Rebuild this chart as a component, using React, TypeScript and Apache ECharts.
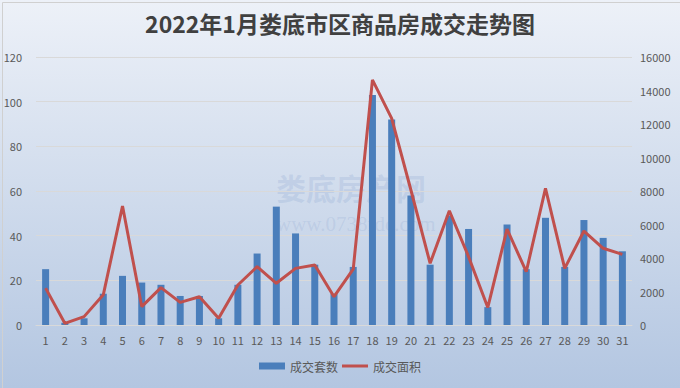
import React, { useEffect, useRef } from "react";
import * as echarts from "echarts";

const days = Array.from({ length: 31 }, (_, i) => String(i + 1));
const units = [25, 1, 3, 14, 22, 19, 18, 13, 13, 3, 18, 32, 53, 41, 27, 14, 26, 103, 92, 58, 27, 49, 43, 8, 45, 25, 48, 26, 47, 39, 33];
const area = [2200, 100, 500, 1800, 7100, 1100, 2230, 1350, 1690, 400, 2390, 3480, 2490, 3380, 3580, 1690, 3340, 14630, 12340, 8060, 3680, 6820, 4080, 1050, 5730, 3180, 8160, 3380, 5610, 4580, 4220];
const titleText = "2022年1月娄底市区商品房成交走势图";
const seriesNames = ["成交套数", "成交面积"];

const FONT = "'Noto Sans CJK SC', 'Noto Sans', sans-serif";
const LINE_ICON = "path://M0,0 L0.01,0 L0,0.01 Z M0,2 L26,2 L26,5 L0,5 Z M26,7 L25.99,7 L26,6.99 Z";

export default function App() {
  const ref = useRef<HTMLDivElement>(null);
  useEffect(() => {
    if (!ref.current) return;
    const chart = echarts.init(ref.current, undefined, { renderer: "svg" });
    chart.setOption({
      animation: false,
      backgroundColor: new echarts.graphic.LinearGradient(0, 0, 0, 1, [
        { offset: 0, color: "#edf1f8" },
        { offset: 1, color: "#b3c6e1" },
      ]),
      title: {
        text: titleText,
        left: "center",
        top: 6,
        textStyle: { fontFamily: FONT, fontSize: 23, fontWeight: "bold", color: "#404040" },
      },
      graphic: [
        {
          type: "rect",
          left: 0,
          top: 0,
          shape: { width: 679, height: 387 },
          style: { fill: "none", stroke: "#d0d0d0", lineWidth: 1 },
          silent: true,
        },
        {
          type: "text",
          left: 276,
          top: 172,
          style: { text: "娄底房产网", font: `bold 30px ${FONT}`, fill: "rgba(120,150,200,0.2)" },
          silent: true,
        },
        {
          type: "text",
          left: 276,
          top: 213,
          style: { text: "www.0738fdc.com", font: `21px serif`, fill: "rgba(120,150,200,0.18)" },
          silent: true,
        },
      ],
      legend: {
        bottom: 11,
        left: "center",
        itemGap: 4,
        itemWidth: 26,
        itemHeight: 7,
        symbolKeepAspect: true,
        textStyle: { fontFamily: FONT, fontSize: 12, color: "#595959" },
        data: [
          { name: seriesNames[0], icon: "rect" },
          { name: seriesNames[1], icon: LINE_ICON },
        ],
      },
      grid: { left: 36, right: 48, top: 57, bottom: 63 },
      xAxis: {
        type: "category",
        data: days,
        axisLine: { lineStyle: { color: "#d9d9d9" } },
        axisTick: { show: false },
        axisLabel: { color: "#595959", fontSize: 11, fontFamily: FONT, interval: 0, margin: 9 },
      },
      yAxis: [
        {
          type: "value",
          min: 0,
          max: 120,
          interval: 20,
          axisLine: { show: false },
          axisTick: { show: false },
          splitLine: { lineStyle: { color: "#d9d9d9", width: 1 } },
          axisLabel: { color: "#595959", fontSize: 11, fontFamily: FONT, margin: 14 },
        },
        {
          type: "value",
          min: 0,
          max: 16000,
          interval: 2000,
          axisLine: { show: false },
          axisTick: { show: false },
          splitLine: { show: false },
          axisLabel: {
            color: "#595959",
            fontSize: 11,
            fontFamily: FONT,
            margin: 8,
            formatter: (v: number) => String(v),
          },
        },
      ],
      series: [
        {
          name: seriesNames[0],
          type: "bar",
          data: units,
          barWidth: 7,
          itemStyle: { color: "#4a7ebb" },
        },
        {
          name: seriesNames[1],
          type: "line",
          yAxisIndex: 1,
          data: area,
          symbol: "none",
          lineStyle: { color: "#c0504d", width: 3 },
          itemStyle: { color: "#c0504d" },
        },
      ],
    });
    return () => chart.dispose();
  }, []);
  return <div ref={ref} style={{ position: "fixed", left: 0, top: 0, width: 680, height: 388 }} />;
}
